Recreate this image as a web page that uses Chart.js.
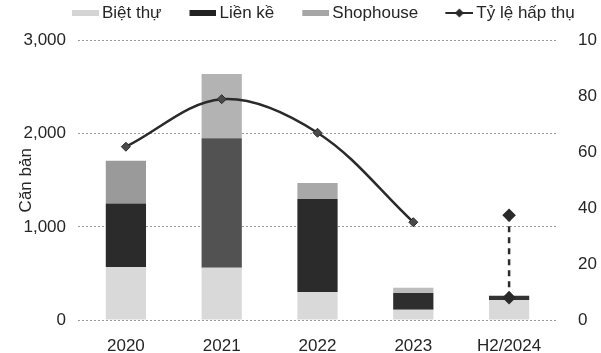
<!DOCTYPE html>
<html>
<head>
<meta charset="utf-8">
<script src="https://cdn.jsdelivr.net/npm/chart.js@4/dist/chart.umd.min.js"></script>
<style>
  html, body { margin: 0; padding: 0; background: #ffffff; }
  #wrap { width: 601px; height: 353px; }
</style>
</head>
<body>
<div id="wrap"><canvas id="c" width="601" height="353"></canvas></div>
<script>
// Sales by product type (units) and absorption rate (%)
const categories = ['2020', '2021', '2022', '2023', 'H2/2024'];
const bietThu   = [570, 560, 300, 110, 215];
const lienKe    = [680, 1390, 1000, 180, 45];
const shophouse = [460, 690, 170, 55, 0];
const tyLeHapThu = [62, 79, 67, 35, null];
const tyLeH2Range = [37.5, 8];          // H2/2024 absorption range, top to bottom
const leftTicks  = ['0', '1,000', '2,000', '3,000'];
const rightTicks = ['0', '20', '40', '60', '80', '10'];

const FONT = '"Liberation Sans", Arial, sans-serif';
const TEXT = '#262626';

// Legend symbols drawn into small canvases (swatch sits at the right edge, next to the text)
function swatch(color) {
  const cv = document.createElement('canvas');
  cv.width = 56; cv.height = 8;
  const g = cv.getContext('2d');
  g.fillStyle = color;
  g.fillRect(29, 1, 27, 6);
  return cv;
}
function lineSymbol() {
  const cv = document.createElement('canvas');
  cv.width = 56; cv.height = 12;
  const g = cv.getContext('2d');
  g.strokeStyle = '#2a2a2a'; g.lineWidth = 2;
  g.beginPath(); g.moveTo(28, 6); g.lineTo(56, 6); g.stroke();
  g.fillStyle = '#2a2a2a';
  g.beginPath(); g.moveTo(42, 1.5); g.lineTo(46.5, 6); g.lineTo(42, 10.5); g.lineTo(37.5, 6); g.closePath(); g.fill();
  return cv;
}
const legendSymbols = [swatch('#d4d4d4'), swatch('#222222'), swatch('#a6a6a6'), lineSymbol()];

// Extra room under the legend and a small rightward shift of the legend row
const legendSpacer = {
  id: 'legendSpacer',
  beforeLayout(chart) {
    const lg = chart.legend;
    if (lg && !lg._spaced) {
      const fit = lg.fit;
      lg.fit = function () {
        fit.call(this);
        this.height += 9;
        if (this.lineWidths && this.lineWidths.length) this.lineWidths[0] -= 22;
      };
      lg._spaced = true;
    }
  }
};

new Chart(document.getElementById('c'), {
  type: 'bar',
  data: {
    labels: categories,
    datasets: [
      {
        label: 'Biệt thự', data: bietThu, backgroundColor: '#d9d9d9',
        stack: 's', yAxisID: 'y', order: 1,
        barPercentage: 0.42, categoryPercentage: 1
      },
      {
        label: 'Liền kề', data: lienKe,
        backgroundColor: ['#2b2b2b', '#525252', '#2b2b2b', '#2e2e2e', '#333333'],
        stack: 's', yAxisID: 'y', order: 1,
        barPercentage: 0.42, categoryPercentage: 1
      },
      {
        label: 'Shophouse', data: shophouse,
        backgroundColor: ['#9a9a9a', '#b3b3b3', '#a8a8a8', '#bdbdbd', '#bdbdbd'],
        stack: 's', yAxisID: 'y', order: 1,
        barPercentage: 0.42, categoryPercentage: 1
      },
      {
        type: 'line', label: 'Tỷ lệ hấp thụ', data: tyLeHapThu, yAxisID: 'y1', order: 0,
        borderColor: '#2a2a2a', borderWidth: 2.5, tension: 0.35,
        pointStyle: 'rectRot', pointRadius: 4.5,
        pointBackgroundColor: '#4a4a4a', pointBorderColor: '#2a2a2a', pointBorderWidth: 1
      },
      {
        type: 'line', label: 'H2/2024 range',
        data: tyLeH2Range.map(v => ({ x: categories[4], y: v })), yAxisID: 'y1', order: 0,
        borderColor: '#2a2a2a', borderWidth: 2.5, borderDash: [6, 5],
        pointStyle: 'rectRot', pointRadius: 5,
        pointBackgroundColor: '#2a2a2a', pointBorderColor: '#2a2a2a'
      }
    ]
  },
  options: {
    responsive: false,
    animation: false,
    layout: { padding: 0 },
    plugins: {
      tooltip: { enabled: false },
      legend: {
        position: 'top',
        labels: {
          usePointStyle: true,
          pointStyleWidth: 45,
          padding: 4.5,
          color: TEXT,
          font: { family: FONT, size: 17 },
          sort: (a, b) => a.datasetIndex - b.datasetIndex,
          filter: item => item.datasetIndex < 4,
          generateLabels(chart) {
            const items = Chart.defaults.plugins.legend.labels.generateLabels(chart);
            items.forEach(it => {
              if (it.datasetIndex < 4) it.pointStyle = legendSymbols[it.datasetIndex];
              it.rotation = 0;
            });
            return items;
          }
        }
      }
    },
    scales: {
      x: {
        stacked: true,
        grid: { display: false },
        border: { display: false },
        ticks: { color: TEXT, font: { family: FONT, size: 17 }, padding: 8 },
        afterFit(s) { s.height = 33; }
      },
      y: {
        stacked: true, position: 'left', min: 0, max: 3000,
        ticks: {
          stepSize: 1000, color: TEXT, font: { family: FONT, size: 17 }, padding: 12,
          callback: (v, i) => leftTicks[i]
        },
        grid: { color: '#9a9a9a', lineWidth: 1, drawTicks: false },
        border: { display: false, dash: [2, 2] },
        title: {
          display: true, text: 'Căn bản', color: TEXT,
          font: { family: FONT, size: 17 }, padding: { top: 16, bottom: 0 }
        },
        afterFit(s) { s.width = 78; }
      },
      y1: {
        position: 'right', min: 0, max: 100,
        ticks: {
          stepSize: 20, color: TEXT, font: { family: FONT, size: 17 }, padding: 13,
          callback: (v, i) => rightTicks[i]
        },
        grid: { display: false },
        border: { display: false },
        afterFit(s) { s.width = 44; }
      }
    }
  },
  plugins: [legendSpacer]
});
</script>
</body>
</html>
